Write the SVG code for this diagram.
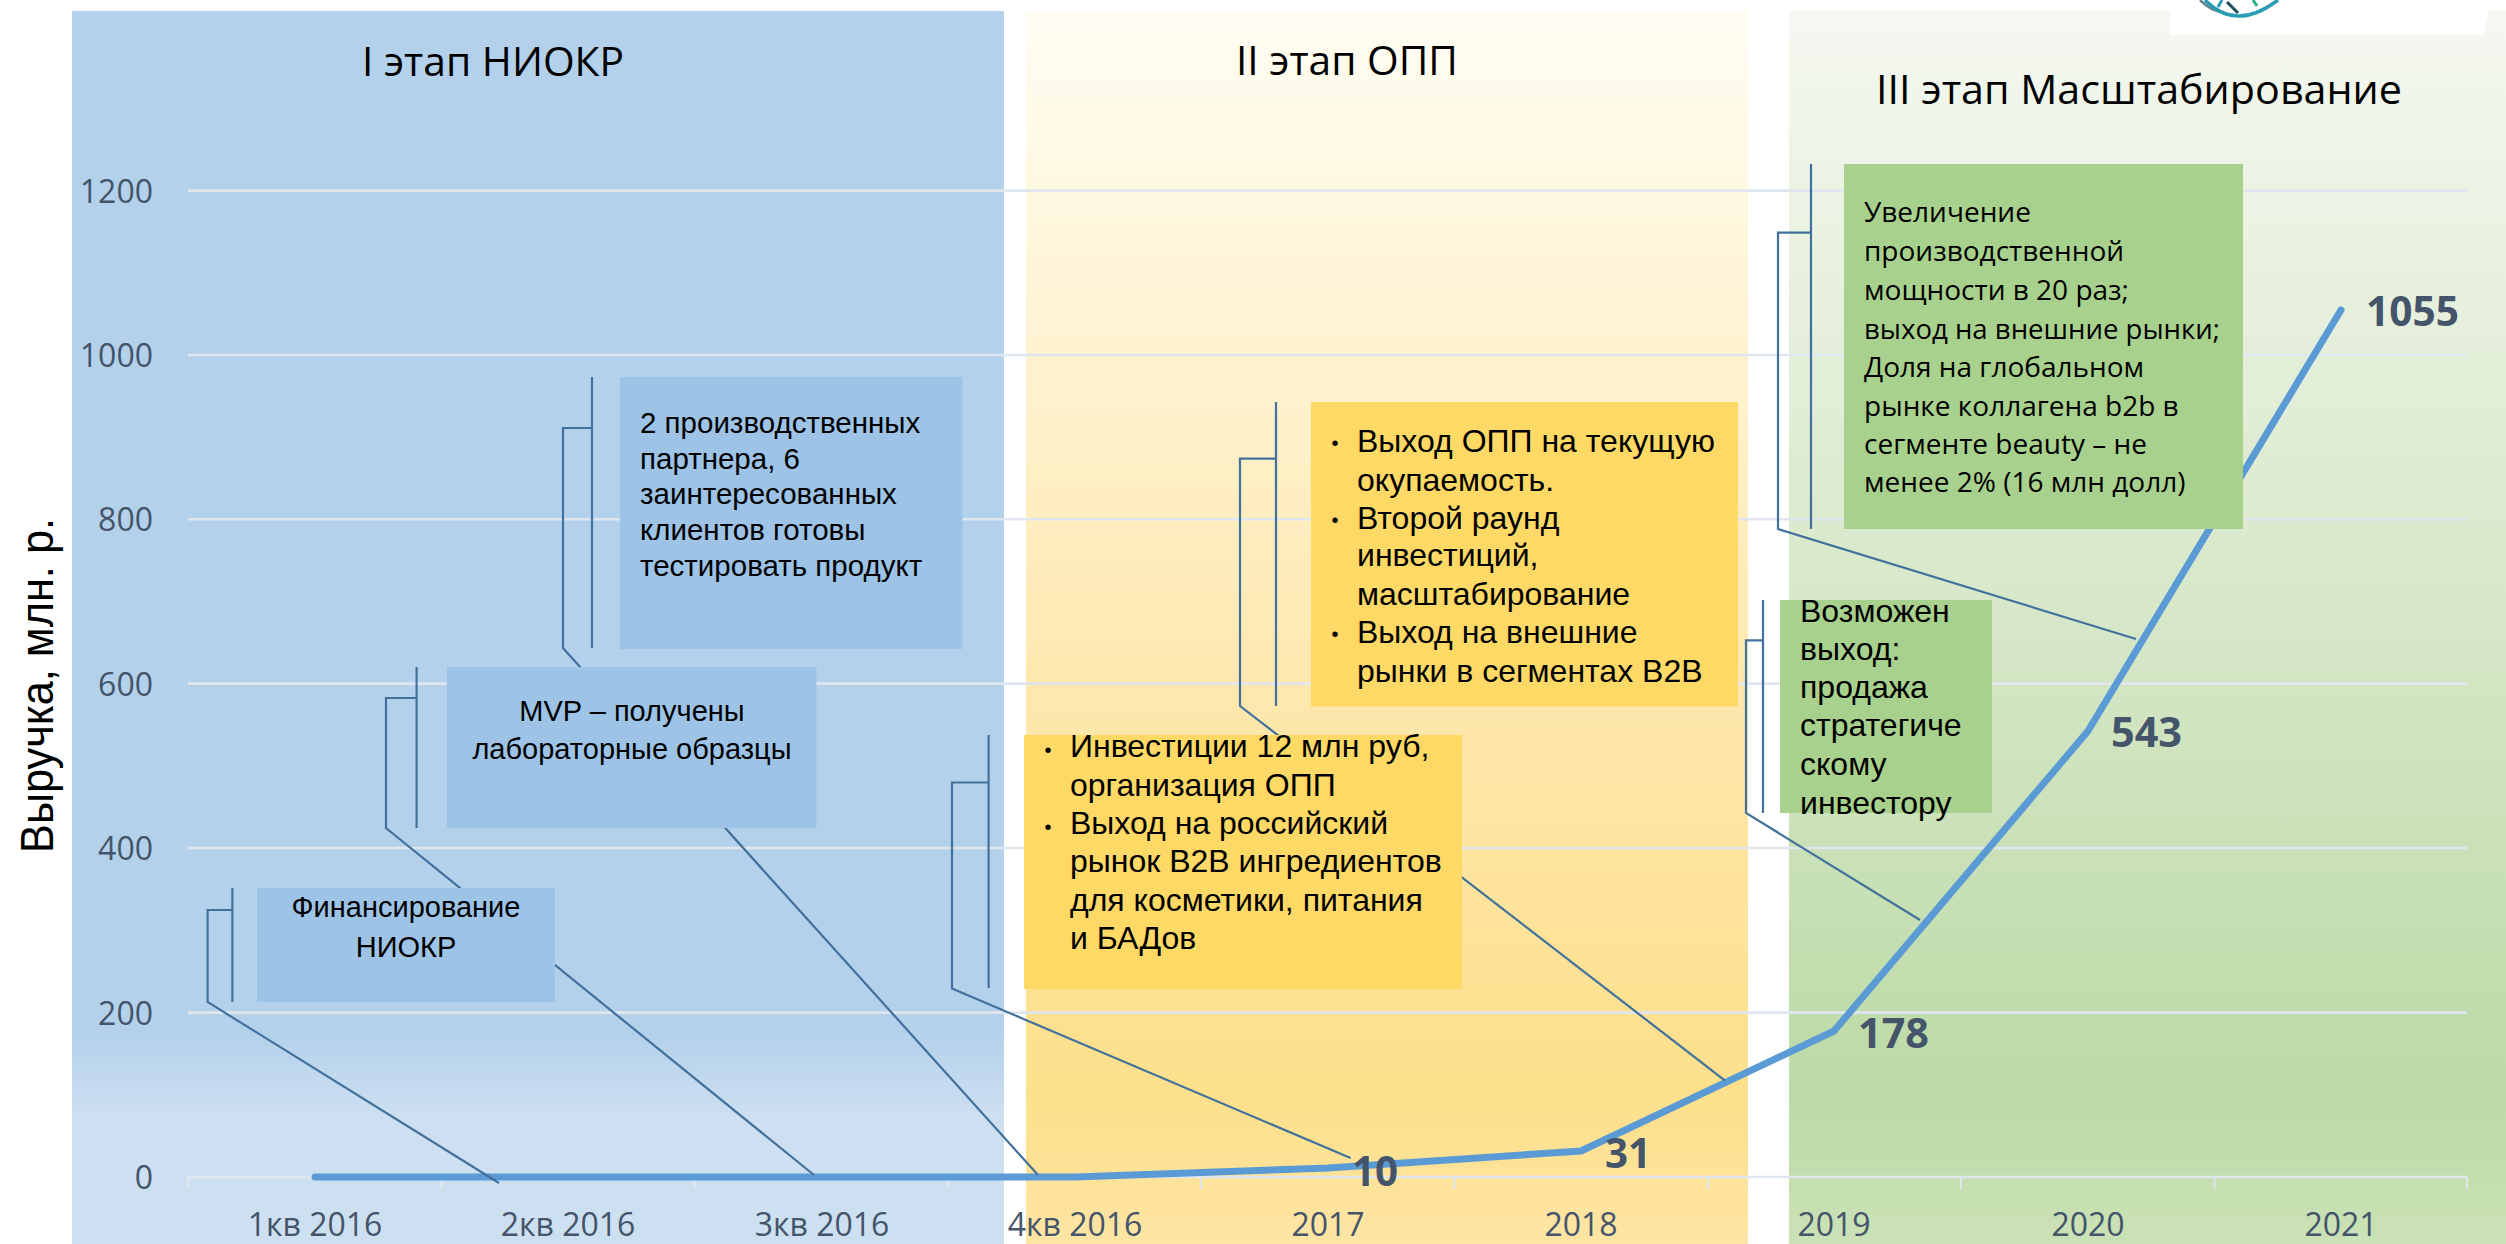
<svg xmlns="http://www.w3.org/2000/svg" width="2506" height="1244" viewBox="0 0 2506 1244">
<defs>
<linearGradient id="gb" x1="0" y1="11" x2="0" y2="1244" gradientUnits="userSpaceOnUse"><stop offset="0" stop-color="#b3d1eb"/><stop offset="0.83" stop-color="#b4d1eb"/><stop offset="0.895" stop-color="#cddff1"/><stop offset="1" stop-color="#cde0f1"/></linearGradient>
<linearGradient id="gy" x1="0" y1="11" x2="0" y2="1244" gradientUnits="userSpaceOnUse"><stop offset="0" stop-color="#fffdf3"/><stop offset="0.6" stop-color="#fee6a8"/><stop offset="0.88" stop-color="#fde08b"/><stop offset="1" stop-color="#fee5a4"/></linearGradient>
<linearGradient id="gg" x1="0" y1="11" x2="0" y2="1244" gradientUnits="userSpaceOnUse"><stop offset="0" stop-color="#f5f8f1"/><stop offset="0.5" stop-color="#d6e7c7"/><stop offset="0.88" stop-color="#bcdaa6"/><stop offset="1" stop-color="#cbe2b6"/></linearGradient>
<style>
.c{font-family:"Open Sans","Liberation Sans",sans-serif}
.a{font-family:"Liberation Sans",Arial,sans-serif;fill:#000}
.t{font-size:40px;fill:#000}
.n{font-size:32px;fill:#44546a}
.d{font-size:41px;font-weight:700;fill:#44546a}
.b{font-size:28px;fill:#000}
.m{text-anchor:middle}
.e{text-anchor:end}
.u{font-size:20px;text-anchor:middle}
.l{fill:none;stroke:#41719c;stroke-width:2.2}
.g{fill:none;stroke:#dfe6ee;stroke-width:2.6}
.f1{fill:#9dc3e6}.f2{fill:#ffd966}.f3{fill:#a9d18e}
</style>
</defs>
<g id="panels">
<rect id="panel-1" x="72" y="11" width="932" height="1233" fill="url(#gb)"/>
<rect id="panel-2" x="1026" y="11" width="722" height="1233" fill="url(#gy)"/>
<rect id="panel-3" x="1789" y="11" width="717" height="1233" fill="url(#gg)"/>
</g>
<g id="logo">
<path d="M2170 0H2492L2483 35H2170Z" fill="#fff"/>
<path d="M2200 0Q2212 12 2224 12" fill="none" stroke="#6b7f88" stroke-width="2.5"/>
<path d="M2205 0Q2236 32 2278 0" fill="none" stroke="#2a9db5" stroke-width="3.5"/>
<path d="M2227 2L2238 13" fill="none" stroke="#1f4f5f" stroke-width="3"/>
<path d="M2218 7L2222 0" fill="none" stroke="#2a9db5" stroke-width="3"/>
<path d="M2253 0L2257 6" fill="none" stroke="#27b08a" stroke-width="3"/>
</g>
<g id="axis">
<path class="g" d="M188 190.600H2467M188 355H2467M188 519.300H2467M188 683.600H2467M188 848H2467M188 1012.600H2467M188 1177H2467"/>
<path d="M188 1177v12M441.300 1177v12M694.600 1177v12M948 1177v12M1201 1177v12M1454.500 1177v12M1708 1177v12M1961 1177v12M2214.500 1177v12M2467 1177v12" fill="none" stroke="#dfe6ee" stroke-width="2"/>
<g class="c n e">
<text x="153" y="203">1200</text><text x="153" y="367">1000</text><text x="153" y="531">800</text><text x="153" y="696">600</text><text x="153" y="860">400</text><text x="153" y="1025">200</text><text x="153" y="1189">0</text>
</g>
<g class="c n m">
<text x="315" y="1236">1кв 2016</text><text x="568" y="1236">2кв 2016</text><text x="822" y="1236">3кв 2016</text><text x="1075" y="1236">4кв 2016</text><text x="1328" y="1236">2017</text><text x="1581" y="1236">2018</text><text x="1834" y="1236">2019</text><text x="2088" y="1236">2020</text><text x="2341" y="1236">2021</text>
</g>
<text class="a" transform="translate(53 853) rotate(-90)" font-size="46" textLength="335" lengthAdjust="spacingAndGlyphs">Выручка, млн. р.</text>
</g>
<g id="series">
<polyline points="315,1177 1075,1177 1328,1168 1581,1151 1834,1031 2088,731 2341,310" fill="none" stroke="#5b9bd5" stroke-width="7" stroke-linecap="round" stroke-linejoin="round"/>
</g>
<g id="connectors">
<path class="l" d="M232.400 888V1002M232.400 910H207.600V1002L499 1183"/>
<path class="l" d="M416.600 667V828M416.600 698H386V828L814 1175"/>
<path class="l" d="M592 377V648M592 428H563V648L1038 1175"/>
<path class="l" d="M988.600 735V988M988.600 782.500H952V988.600L1350.600 1158"/>
<path class="l" d="M1276 402V706M1276 458.700H1240V706L1725 1080.600"/>
<path class="l" d="M1763 600V813M1763 640.400H1746V813L1920 920"/>
<path class="l" d="M1811 164V529M1811 232.600H1778V529L2136 639"/>
</g>
<g id="stage-1-title"><text class="c t" x="362" y="76" textLength="262" lengthAdjust="spacingAndGlyphs">I этап НИОКР</text></g>
<g id="stage-2-title"><text class="c t" x="1236" y="75" textLength="222" lengthAdjust="spacingAndGlyphs">II этап ОПП</text></g>
<g id="stage-3-title"><text class="c t" x="1876" y="104" textLength="526" lengthAdjust="spacingAndGlyphs">III этап Масштабирование</text></g>
<g id="box-1"><rect class="f1" x="257" y="888" width="298" height="114"/><text class="a m" font-size="29" x="406" y="917">Финансирование</text><text class="a m" font-size="29" x="406" y="957">НИОКР</text></g>
<g id="box-2"><rect class="f1" x="447" y="667" width="369.500" height="161"/><text class="a m" font-size="29" x="632" y="721">MVP – получены</text><text class="a m" font-size="29" x="632" y="759">лабораторные образцы</text></g>
<g id="box-3"><rect class="f1" x="620" y="377" width="342.500" height="272"/><g class="a" font-size="29.500"><text x="640" y="433">2 производственных</text><text x="640" y="469">партнера, 6</text><text x="640" y="504">заинтересованных</text><text x="640" y="540">клиентов готовы</text><text x="640" y="576">тестировать продукт</text></g></g>
<g id="box-4"><rect class="f2" x="1024" y="735" width="438" height="254"/><g class="a" font-size="32"><text class="u" x="1048" y="757">•</text><text x="1070" y="757">Инвестиции 12 млн руб,</text><text x="1070" y="796">организация ОПП</text><text class="u" x="1048" y="834">•</text><text x="1070" y="834">Выход на российский</text><text x="1070" y="872">рынок В2В ингредиентов</text><text x="1070" y="911">для косметики, питания</text><text x="1070" y="949">и БАДов</text></g></g>
<g id="box-5"><rect class="f2" x="1311" y="402" width="427" height="304.500"/><g class="a" font-size="32"><text class="u" x="1335" y="450">•</text><text x="1357" y="452">Выход ОПП на текущую</text><text x="1357" y="491">окупаемость.</text><text class="u" x="1335" y="527">•</text><text x="1357" y="529">Второй раунд</text><text x="1357" y="566">инвестиций,</text><text x="1357" y="605">масштабирование</text><text class="u" x="1335" y="641">•</text><text x="1357" y="643">Выход на внешние</text><text x="1357" y="682">рынки в сегментах В2В</text></g></g>
<g id="box-6"><rect class="f3" x="1780" y="600" width="212" height="213"/><g class="a" font-size="32"><text x="1800" y="622">Возможен</text><text x="1800" y="660">выход:</text><text x="1800" y="698">продажа</text><text x="1800" y="736">стратегиче</text><text x="1800" y="775">скому</text><text x="1800" y="814">инвестору</text></g></g>
<g id="box-7"><rect class="f3" x="1844" y="164" width="399" height="365"/><g class="c b"><text x="1864" y="222">Увеличение</text><text x="1864" y="261">производственной</text><text x="1864" y="300">мощности в 20 раз;</text><text x="1864" y="339" textLength="356" lengthAdjust="spacingAndGlyphs">выход на внешние рынки;</text><text x="1864" y="377">Доля на глобальном</text><text x="1864" y="416">рынке коллагена b2b в</text><text x="1864" y="454">сегменте beauty – не</text><text x="1864" y="492">менее 2% (16 млн долл)</text></g></g>
<g id="data-labels" class="c d">
<text x="1352" y="1186" textLength="46" lengthAdjust="spacingAndGlyphs">10</text><text x="1605" y="1168" textLength="46" lengthAdjust="spacingAndGlyphs">31</text><text x="1858" y="1048" textLength="71" lengthAdjust="spacingAndGlyphs">178</text><text x="2111" y="747" textLength="71" lengthAdjust="spacingAndGlyphs">543</text><text x="2366" y="326" textLength="93" lengthAdjust="spacingAndGlyphs">1055</text>
</g>
</svg>
